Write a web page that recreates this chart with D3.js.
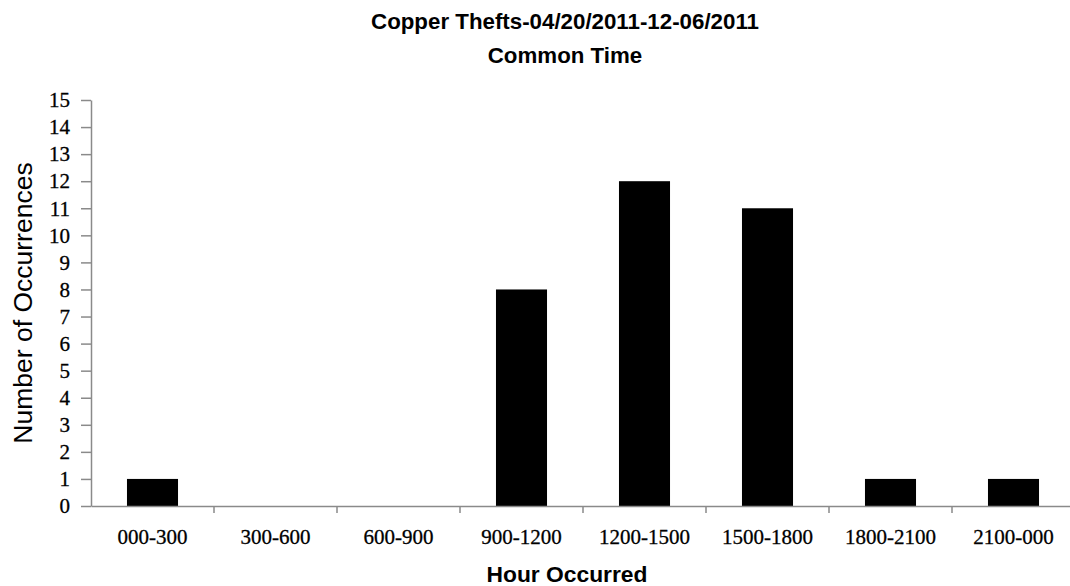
<!DOCTYPE html>
<html>
<head>
<meta charset="utf-8">
<script src="https://cdn.jsdelivr.net/npm/d3@7"></script>
<style>
  html, body { margin: 0; padding: 0; background: #fff; }
  svg { display: block; }
</style>
</head>
<body>
<svg id="chart" width="1070" height="586"></svg>
<script>
const categories = ["000-300", "300-600", "600-900", "900-1200", "1200-1500", "1500-1800", "1800-2100", "2100-000"];
const occurrences = [1, 0, 0, 8, 12, 11, 1, 1];
const yTicks = [0, 1, 2, 3, 4, 5, 6, 7, 8, 9, 10, 11, 12, 13, 14, 15];
const titleLines = ["Copper Thefts-04/20/2011-12-06/2011", "Common Time"];
const xTitle = "Hour Occurred";
const yTitle = "Number of Occurrences";

const svg = d3.select("#chart");
const plotLeft = 91, plotRight = 1075, plotTop = 100, plotBottom = 506;

const x = d3.scaleBand().domain(categories).range([plotLeft, plotRight]).padding(0);
const y = d3.scaleLinear().domain([0, 15]).range([plotBottom, plotTop]);
const axisColor = "#8a8a8a";
const tickFont = "'Liberation Serif', 'Times New Roman', serif";

// bars
const barW = x.bandwidth() * 0.415;
svg.append("g").selectAll("rect")
  .data(categories.map((c, i) => ({c, v: occurrences[i]})))
  .join("rect")
  .attr("x", d => x(d.c) + (x.bandwidth() - barW) / 2)
  .attr("width", barW)
  .attr("y", d => y(d.v))
  .attr("height", d => y(0) - y(d.v))
  .attr("fill", "#000");

// y axis
const yAxis = svg.append("g")
  .attr("transform", `translate(${plotLeft},0)`)
  .call(d3.axisLeft(y).tickValues(yTicks).tickSize(10).tickSizeOuter(0).tickPadding(11));
yAxis.select(".domain").attr("stroke", axisColor).attr("stroke-width", 1.5);
yAxis.selectAll(".tick line").attr("stroke", axisColor).attr("stroke-width", 1.5);
yAxis.selectAll(".tick text")
  .attr("font-family", tickFont).attr("font-size", 21).attr("fill", "#000")
  .attr("stroke", "#000").attr("stroke-width", 0.3);

// x axis: labels at band centers, ticks at boundaries
const xAxis = svg.append("g")
  .attr("transform", `translate(0,${plotBottom})`)
  .call(d3.axisBottom(x).tickSize(0).tickPadding(23));
xAxis.select(".domain").attr("stroke", axisColor).attr("stroke-width", 1.5);
xAxis.selectAll(".tick text")
  .attr("font-family", tickFont).attr("font-size", 21).attr("fill", "#000")
  .attr("stroke", "#000").attr("stroke-width", 0.3);
const bounds = categories.map(c => x(c)).concat([x.range()[1]]);
xAxis.append("g").selectAll("line")
  .data(bounds.slice(1))
  .join("line")
  .attr("x1", d => d).attr("x2", d => d)
  .attr("y1", 0).attr("y2", 7)
  .attr("stroke", axisColor).attr("stroke-width", 1.5);

// titles
const title = svg.append("text")
  .attr("x", 565).attr("y", 29)
  .attr("text-anchor", "middle")
  .attr("font-family", "'Liberation Sans', Arial, sans-serif")
  .attr("font-weight", "bold").attr("font-size", 22.3).attr("fill", "#000");
title.selectAll("tspan").data(titleLines).join("tspan")
  .attr("x", 565).attr("dy", (d, i) => i === 0 ? 0 : 34)
  .text(d => d);

svg.append("text")
  .attr("x", 567).attr("y", 582)
  .attr("text-anchor", "middle")
  .attr("font-family", "'Liberation Sans', Arial, sans-serif")
  .attr("font-weight", "bold").attr("font-size", 22.8).attr("fill", "#000")
  .text(xTitle);

svg.append("text")
  .attr("transform", `translate(32,303) rotate(-90)`)
  .attr("text-anchor", "middle")
  .attr("font-family", "'Liberation Sans', Arial, sans-serif")
  .attr("font-size", 26.5).attr("fill", "#000")
  .text(yTitle);
</script>
</body>
</html>
